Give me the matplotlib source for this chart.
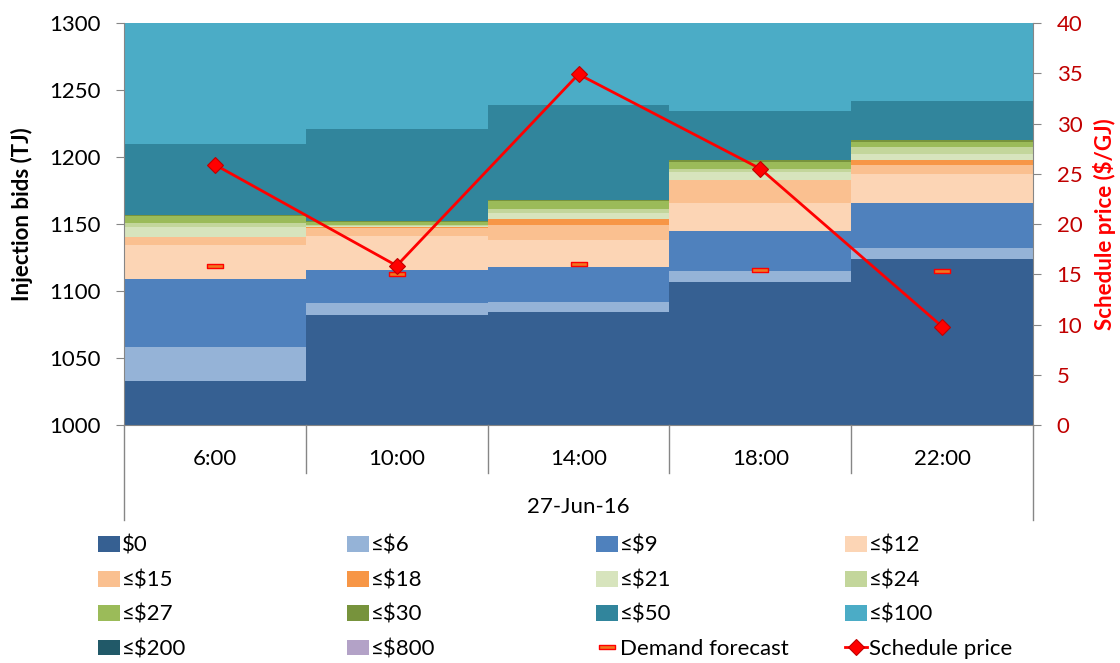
import numpy as np
import matplotlib
matplotlib.use("Agg")
import matplotlib.pyplot as plt
from matplotlib.patches import Patch
from matplotlib.lines import Line2D
from matplotlib.path import Path
import matplotlib.transforms as mtransforms

plt.rcParams['font.family'] = ['Lato', 'DejaVu Sans']
plt.rcParams['text.parse_math'] = False

# ---------------- data ----------------
times = ["6:00", "10:00", "14:00", "18:00", "22:00"]
date_label = "27-Jun-16"

band_labels = ["$0", "≤$6", "≤$9", "≤$12", "≤$15", "≤$18", "≤$21", "≤$24",
               "≤$27", "≤$30", "≤$50", "≤$100", "≤$200", "≤$800"]
band_colors = ["#366092", "#95B3D7", "#4F81BD", "#FCD5B5", "#FAC090", "#F79646",
               "#D7E4BD", "#C3D69B", "#9BBB59", "#77933C", "#31859C", "#4BACC6",
               "#215968", "#B3A2C7"]

# cumulative top (TJ) of each price band, per time slot
top_0   = [1033.0, 1082.0, 1084.0, 1107.0, 1124.0]
top_6   = [1058.0, 1091.0, 1092.0, 1115.0, 1132.0]
top_9   = [1109.0, 1116.0, 1118.0, 1145.0, 1166.0]
top_12  = [1134.0, 1141.0, 1138.0, 1166.0, 1187.5]
top_15  = [1140.0, 1147.0, 1149.0, 1183.0, 1194.0]
top_18  = [1140.5, 1148.0, 1154.0, 1183.0, 1198.0]
top_21  = [1148.0, 1148.5, 1158.0, 1189.0, 1202.0]
top_24  = [1151.0, 1149.0, 1161.0, 1191.0, 1207.5]
top_27  = [1156.0, 1151.5, 1167.0, 1196.0, 1211.5]
top_30  = [1156.5, 1152.0, 1168.0, 1198.0, 1213.0]
top_50  = [1210.0, 1221.0, 1239.0, 1234.0, 1242.0]
top_100 = [1305.0, 1305.0, 1305.0, 1305.0, 1305.0]
top_200 = [1310.0, 1310.0, 1310.0, 1310.0, 1310.0]
top_800 = [1312.0, 1312.0, 1312.0, 1312.0, 1312.0]

demand_forecast = [1118.7, 1113.0, 1120.4, 1115.4, 1114.7]
schedule_price = [25.9, 15.85, 34.9, 25.5, 9.8]

# ---------------- figure ----------------
FS = 16
W, H = 1120, 663
fig = plt.figure(figsize=(W / 100, H / 100), dpi=100)
L, R, T, B = 124, 1033, 23, 425
ax = fig.add_axes([L / W, 1 - B / H, (R - L) / W, (B - T) / H])

tops = np.array([top_0, top_6, top_9, top_12, top_15, top_18, top_21, top_24,
                 top_27, top_30, top_50, top_100, top_200, top_800])
base = 1000.0
x = np.arange(len(times))
prev = np.full(len(times), base)
for lab, col, tp in zip(band_labels, band_colors, tops):
    ax.bar(x, tp - prev, bottom=prev, width=1.0, color=col, linewidth=0,
           zorder=1, label=lab)
    prev = tp

ax.set_xlim(-0.5, len(times) - 0.5)
ax.set_ylim(1000, 1300)
ax.set_yticks(np.arange(1000, 1301, 50))

grey = "#868686"
ax.spines["top"].set_visible(False)
ax.spines["right"].set_visible(False)
for s in ["left", "bottom"]:
    ax.spines[s].set_color(grey)
ax.tick_params(axis="y", direction="out", length=6, color=grey, labelsize=FS,
               pad=11, labelcolor="black")
ax.set_xticks([])

# rectangle marker for demand forecast
rect = Path([(-1, -0.26), (1, -0.26), (1, 0.26), (-1, 0.26), (-1, -0.26)],
            [Path.MOVETO, Path.LINETO, Path.LINETO, Path.LINETO, Path.CLOSEPOLY])
ax.plot(x, demand_forecast, linestyle="none", marker=rect, markersize=12,
        markerfacecolor="#F07820", markeredgecolor="#FF0000",
        markeredgewidth=1.0, zorder=5)

# multi-level category axis
trans = mtransforms.blended_transform_factory(ax.transData, ax.transAxes)
sep_h = (473 - 425) / (B - T)
out_h = (520 - 425) / (B - T)
for xv in np.arange(0.5, len(times) - 0.5, 1.0):
    ax.add_line(Line2D([xv, xv], [0, -sep_h], transform=trans, color=grey,
                       lw=1, clip_on=False))
for xv in [-0.5, len(times) - 0.5]:
    ax.add_line(Line2D([xv, xv], [0, -out_h], transform=trans, color=grey,
                       lw=1, clip_on=False))
for xv, t in zip(x, times):
    ax.text(xv, -(459 - 425) / (B - T), t, transform=trans, ha="center",
            va="center", fontsize=FS)
ax.text((len(times) - 1) / 2, -(507 - 425) / (B - T), date_label,
        transform=trans, ha="center", va="center", fontsize=FS)

# right axis: schedule price
ax2 = ax.twinx()
ax2.set_ylim(0, 40)
ax2.set_yticks(np.arange(0, 41, 5))
ax2.spines["top"].set_visible(False)
ax2.spines["left"].set_visible(False)
ax2.spines["bottom"].set_visible(False)
ax2.spines["right"].set_color(grey)
ax2.tick_params(axis="y", direction="out", length=6, color=grey, labelsize=FS,
                pad=11, labelcolor="#C00000")
ax2.plot(x, schedule_price, color="#FF0000", lw=2, marker="D", markersize=8.5,
         markerfacecolor="#FF0000", markeredgecolor="#C00000",
         markeredgewidth=0.8, zorder=6)

fig.text(22 / W, 1 - 214 / H, "Injection bids (TJ)", rotation=90, ha="center",
         va="center", fontsize=FS, fontweight="bold")
fig.text(1105 / W, 1 - 224 / H, "Schedule price ($/GJ)", rotation=90,
         ha="center", va="center", fontsize=FS, fontweight="bold",
         color="#FF0000")

# legend: four columns
patches = [Patch(facecolor=c, edgecolor="none") for c in band_colors]
h_demand = Line2D([], [], linestyle="none", marker=rect, markersize=12,
                  markerfacecolor="#F07820", markeredgecolor="#FF0000",
                  markeredgewidth=1.0)
h_price = Line2D([], [], color="#FF0000", lw=2, marker="D", markersize=8.5,
                 markerfacecolor="#FF0000", markeredgecolor="#C00000",
                 markeredgewidth=0.8)
all_h = patches + [h_demand, h_price]
all_l = band_labels + ["Demand forecast", "Schedule price"]
col_x = [98, 347, 596, 845]
for c in range(4):
    hs = [all_h[r * 4 + c] for r in range(4)]
    ls = [all_l[r * 4 + c] for r in range(4)]
    fig.legend(hs, ls, loc="upper left", bbox_to_anchor=(col_x[c] / W, 1 - 536 / H),
               frameon=False, borderpad=0, borderaxespad=0, fontsize=FS,
               handlelength=1.0, handleheight=0.72, handletextpad=0.08,
               labelspacing=0.65)

fig.savefig("out.png", dpi=100)
